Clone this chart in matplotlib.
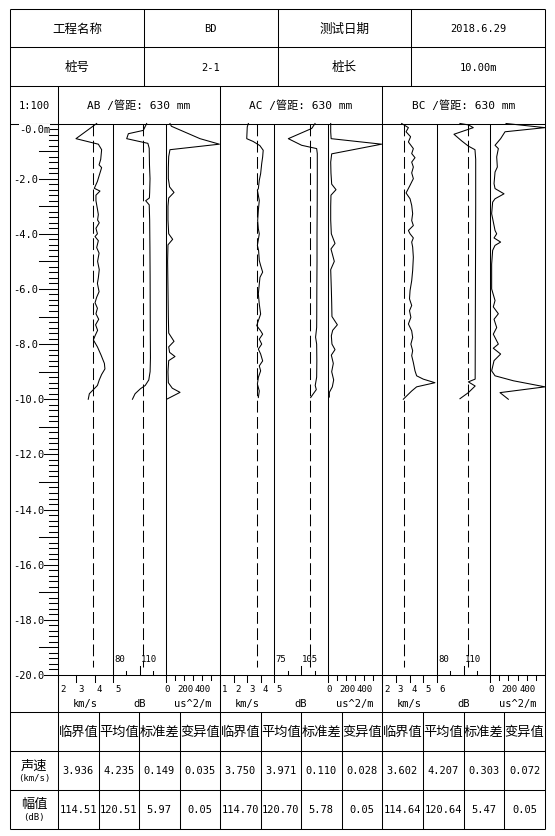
import numpy as np
import matplotlib
matplotlib.use("Agg")
import matplotlib.pyplot as plt
import matplotlib.transforms as mtransforms

plt.rcParams['font.family'] = ['DejaVu Sans Mono', 'Noto Sans CJK SC']
plt.rcParams['lines.scale_dashes'] = False

W, H = 555, 837

# ---------------- data ----------------
header_row1 = ["工程名称", "BD", "测试日期", "2018.6.29"]
header_row2 = ["桩号", "2-1", "桩长", "10.00m"]
scale_label = "1:100"
sections = ["AB", "AC", "BC"]
pipe_gap = [630, 630, 630]

vel_range = [(2, 5), (1, 5), (2, 6)]
amp_range = [(80, 140), (75, 135), (80, 140)]
psd_range = (0, 600)
vel_crit = [3.936, 3.750, 3.602]
amp_crit = [114.51, 114.70, 114.64]

stat_names = ["临界值", "平均值", "标准差", "变异值"]
vel_stats = [["3.936", "4.235", "0.149", "0.035"],
             ["3.750", "3.971", "0.110", "0.028"],
             ["3.602", "4.207", "0.303", "0.072"]]
amp_stats = [["114.51", "120.51", "5.97", "0.05"],
             ["114.70", "120.70", "5.78", "0.05"],
             ["114.64", "120.64", "5.47", "0.05"]]

# AB
ab_vel_depth = [0.0, 0.55, 0.75, 0.95, 1.3, 1.5, 1.6, 1.9, 2.1, 2.35, 2.45, 2.6, 2.8, 3.1, 3.3, 3.5,
                3.6, 3.8, 4.0, 4.1, 4.25, 4.5, 4.7, 5.0, 5.3, 5.6, 5.8, 6.1, 6.3, 6.5, 6.7, 6.9,
                7.1, 7.3, 7.5, 7.7, 7.85, 8.1, 8.4, 8.7, 8.9, 9.1, 9.3, 9.5, 9.65, 9.8, 10.0]
ab_vel = [4.11, 2.98, 4.20, 4.38, 4.33, 4.24, 4.38, 4.24, 4.15, 3.98, 4.29, 4.07, 4.07, 4.15, 4.20, 4.16,
          4.25, 4.07, 4.15, 4.02, 4.20, 4.11, 4.24, 4.16, 4.25, 4.20, 4.15, 4.24, 4.11, 4.02, 4.15, 4.07,
          4.22, 4.05, 4.16, 4.02, 3.93, 4.15, 4.35, 4.53, 4.56, 4.38, 4.25, 4.15, 3.93, 3.71, 3.65]
ab_amp_depth = [0.0, 0.25, 0.37, 0.55, 0.72, 0.9, 1.5, 2.0, 2.5, 2.7, 2.8, 2.95, 3.5, 4.5, 5.5, 6.5,
                7.5, 8.5, 9.0, 9.3, 9.5, 9.62, 9.8, 10.0]
ab_amp = [118.1, 114.3, 97.4, 95.5, 119.5, 121.0, 121.3, 121.9, 121.5, 121.2, 117.0, 121.0, 121.5, 121.8,
          122.0, 122.1, 122.2, 122.4, 122.0, 120.5, 116.5, 111.0, 105.0, 102.0]
ab_psd_depth = [0.0, 0.1, 0.55, 0.75, 0.95, 1.2, 1.6, 2.0, 2.3, 2.5, 2.7, 3.0, 3.5, 4.0, 4.2, 4.4,
                5.0, 6.0, 7.0, 7.6, 7.9, 8.1, 8.3, 8.45, 8.6, 9.0, 9.4, 9.6, 9.75, 10.0]
ab_psd = [44, 60, 378, 593, 44, 30, 26, 26, 40, 89, 30, 22, 22, 30, 74, 22,
          18, 22, 26, 30, 89, 30, 40, 100, 30, 22, 26, 70, 156, 7]

# AC
ac_vel_depth = [0.0, 0.12, 0.55, 0.65, 0.8, 0.97, 1.21, 1.45, 1.82, 2.06, 2.36, 2.42, 2.79, 3.15,
                3.52, 3.82, 4.0, 4.42, 4.61, 4.97, 5.15, 5.39, 5.58, 5.82, 6.18, 6.55, 6.91, 7.15,
                7.33, 7.52, 7.64, 7.82, 8.0, 8.18, 8.36, 8.61, 8.79, 8.97, 9.21, 9.45, 9.7, 9.94]
ac_vel = [3.10, 3.02, 2.98, 3.45, 3.95, 4.20, 4.16, 4.09, 4.01, 3.91, 3.84, 3.77, 3.91, 3.84,
          3.79, 3.84, 3.91, 3.77, 3.86, 3.91, 4.01, 4.16, 3.96, 3.91, 3.84, 3.91, 4.01, 3.84,
          3.72, 4.01, 4.16, 3.91, 4.09, 3.84, 4.01, 4.16, 3.91, 4.01, 3.84, 3.77, 3.91, 3.84]
ac_amp_depth = [0.0, 0.18, 0.55, 0.79, 0.91, 1.09, 2.0, 3.0, 4.0, 5.0, 6.0, 7.0, 7.4, 7.75, 8.0,
                8.6, 9.2, 9.5, 9.65, 9.8, 9.94]
ac_amp = [120.6, 116.9, 90.9, 105.7, 122.4, 123.1, 123.1, 123.0, 122.8, 122.8, 122.6, 122.5, 122.4,
          121.2, 122.4, 122.6, 122.4, 120.8, 122.0, 118.7, 115.7]
ac_psd_depth = [0.0, 0.3, 0.55, 0.75, 1.1, 1.4, 1.8, 2.2, 2.4, 2.6, 3.0, 3.5, 4.0, 4.35, 4.55, 5.0,
                5.3, 6.0, 6.5, 7.0, 7.3, 7.5, 7.7, 8.0, 8.2, 8.4, 8.7, 9.0, 9.3, 9.55, 9.75, 9.92]
ac_psd = [30, 30, 35, 596, 41, 30, 33, 41, 89, 33, 30, 30, 37, 78, 33, 70,
          30, 37, 41, 44, 104, 52, 37, 44, 78, 37, 59, 41, 63, 48, 15, 15]

# BC
bc_vel_depth = [0.0, 0.15, 0.3, 0.48, 0.67, 0.91, 1.09, 1.24, 1.4, 1.58, 1.79, 2.0, 2.24, 2.52,
                2.73, 2.97, 3.27, 3.52, 3.7, 3.88, 4.0, 4.15, 4.3, 4.48, 4.85, 5.33, 5.7, 6.06,
                6.36, 6.6, 6.79, 7.03, 7.27, 7.52, 7.76, 8.0, 8.24, 8.42, 8.67, 8.97, 9.15, 9.27,
                9.4, 9.55, 9.7, 9.88, 10.0]
bc_vel = [3.43, 3.92, 3.75, 4.08, 3.92, 4.28, 4.16, 4.40, 4.16, 4.28, 4.16, 4.28, 4.04, 3.75,
          4.04, 4.16, 4.23, 4.16, 4.28, 3.92, 4.04, 4.28, 4.16, 4.23, 4.28, 4.23, 4.16, 4.04,
          4.00, 4.16, 4.00, 4.10, 3.92, 4.16, 4.23, 4.10, 4.23, 4.16, 4.28, 4.40, 4.52, 5.00,
          5.85, 4.52, 4.16, 3.79, 3.55]
bc_amp_depth = [0.0, 0.05, 0.15, 0.39, 0.63, 0.82, 0.95, 1.3, 3.0, 5.0, 7.0, 9.27, 9.37, 9.52,
                9.76, 9.98]
bc_amp = [106.0, 115.5, 121.1, 99.2, 107.9, 115.5, 123.0, 123.8, 123.8, 123.6, 123.4, 123.2,
          115.5, 123.2, 115.5, 106.0]
bc_psd_depth = [0.0, 0.15, 0.3, 0.55, 0.79, 0.91, 1.21, 1.58, 1.76, 2.18, 2.36, 2.55, 2.73, 2.85,
                3.27, 3.88, 4.0, 4.15, 4.3, 4.42, 4.6, 5.1, 6.0, 6.42, 6.65, 6.9, 7.1, 7.4, 7.64,
                8.0, 8.15, 8.36, 8.6, 8.97, 9.15, 9.33, 9.55, 9.76, 10.0]
bc_psd = [175, 600, 164, 116, 55, 91, 73, 80, 55, 44, 55, 153, 55, 29,
          18, 55, 73, 44, 116, 55, 29, 18, 18, 55, 36, 91, 44, 73, 36,
          91, 36, 116, 44, 18, 55, 255, 600, 109, 200]

curves = [
    [(ab_vel_depth, ab_vel), (ab_amp_depth, ab_amp), (ab_psd_depth, ab_psd)],
    [(ac_vel_depth, ac_vel), (ac_amp_depth, ac_amp), (ac_psd_depth, ac_psd)],
    [(bc_vel_depth, bc_vel), (bc_amp_depth, bc_amp), (bc_psd_depth, bc_psd)],
]
max_depth = 20

# ---------------- layout (pixels) ----------------
LEFT, RIGHT = 10, 545
ROW_Y = [10, 48, 87, 124.5]
TOP, BOT = 124.5, 676
TAB_Y = [713, 752, 791, 830]
COL_X = 58
GROUP_X = [58, 220, 382, 545]
SUB_X = [[58, 113, 166, 220], [220, 274, 328, 382], [382, 437, 490, 545]]
LW = 0.75

fig = plt.figure(figsize=(W / 100, H / 100), dpi=100)
base = fig.add_axes([0, 0, 1, 1])
base.set_xlim(0, W)
base.set_ylim(H, 0)
base.axis('off')


def px_axes(x0, y0, x1, y1):
    return fig.add_axes([x0 / W, 1 - y1 / H, (x1 - x0) / W, (y1 - y0) / H])


def hl(y, x0, x1):
    base.plot([x0, x1], [y, y], color='k', lw=LW, solid_capstyle='butt')


def vl(x, y0, y1):
    base.plot([x, x], [y0, y1], color='k', lw=LW, solid_capstyle='butt')


# frame lines
for y in ROW_Y + TAB_Y:
    hl(y, LEFT, RIGHT)
hl(BOT, COL_X, RIGHT)
vl(LEFT, ROW_Y[0], TAB_Y[-1])
vl(RIGHT, ROW_Y[0], TAB_Y[-1])
cw = (RIGHT - LEFT) / 4
for k in range(1, 4):
    vl(LEFT + k * cw, ROW_Y[0], ROW_Y[2])
for x in GROUP_X[:-1]:
    vl(x, ROW_Y[2], TAB_Y[-1])
for g in range(3):
    for x in SUB_X[g][1:3]:
        vl(x, TOP, BOT)
    gw = (GROUP_X[g + 1] - GROUP_X[g]) / 4
    for k in range(1, 4):
        vl(GROUP_X[g] + k * gw, TAB_Y[0], TAB_Y[-1])

# header text
for k in range(4):
    cx = LEFT + (k + 0.5) * cw
    for row, txt in ((0, header_row1[k]), (1, header_row2[k])):
        cy = (ROW_Y[row] + ROW_Y[row + 1]) / 2
        fs = 9 if k % 2 == 0 else 7.5
        base.text(cx, cy, txt, ha='center', va='center', fontsize=fs)
cy3 = (ROW_Y[2] + ROW_Y[3]) / 2
base.text((LEFT + COL_X) / 2, cy3, scale_label, ha='center', va='center', fontsize=7.5)
for g in range(3):
    base.text((GROUP_X[g] + GROUP_X[g + 1]) / 2, cy3,
              "%s /管距: %d mm" % (sections[g], pipe_gap[g]),
              ha='center', va='center', fontsize=8)

# depth scale
dax = px_axes(LEFT, TOP, COL_X, BOT)
dax.set_xlim(LEFT, COL_X)
dax.set_ylim(-max_depth, 0)
dax.axis('off')
for d in np.round(np.arange(0, max_depth + 0.001, 0.2), 1):
    if np.isclose(d % 1, 0) or np.isclose(d % 1, 1):
        dax.plot([39, COL_X], [-d, -d], color='k', lw=LW, clip_on=False)
    else:
        dax.plot([49, COL_X], [-d, -d], color='k', lw=LW, clip_on=False)
for d in range(0, max_depth + 1, 2):
    if d == 0:
        dax.text(19, -0.2, "-0.0m", ha='left', va='center', fontsize=7.5,
                 bbox=dict(fc='white', ec='none', pad=0))
    else:
        dax.text(13, -d, "-%.1f" % d, ha='left', va='center', fontsize=7.5,
                 bbox=dict(fc='white', ec='none', pad=0), clip_on=False)

# curves and bottom scales
for g in range(3):
    ranges = [vel_range[g], amp_range[g], psd_range]
    crits = [vel_crit[g], amp_crit[g], None]
    units = ["km/s", "dB", "us^2/m"]
    for s in range(3):
        x0, x1 = SUB_X[g][s], SUB_X[g][s + 1]
        ax = px_axes(x0, TOP, x1, BOT)
        lo, hi = ranges[s]
        ax.set_xlim(lo, hi)
        ax.set_ylim(-max_depth, 0)
        ax.axis('off')
        dep, val = curves[g][s]
        ax.plot(val, -np.array(dep), color='k', lw=LW, clip_on=False)
        if crits[s] is not None:
            ax.plot([crits[s], crits[s]], [0, -19.7], color='k', lw=LW,
                    dashes=(8.5, 3.2), clip_on=False)
        tr = mtransforms.blended_transform_factory(ax.transData, base.transData)
        if s == 0:
            for t in range(lo, hi + 1):
                ax.plot([t, t], [BOT, BOT + 7], color='k', lw=LW, transform=tr, clip_on=False)
                ax.text(t, 690, str(t), ha='left', va='center', fontsize=6.5, clip_on=False,
                        transform=mtransforms.offset_copy(tr, fig=fig, x=2, units='dots'))
        elif s == 1:
            for t in np.arange(lo + 15, hi, 15):
                ln = 9 if t == lo + 30 else 4
                ax.plot([t, t], [BOT, BOT - ln], color='k', lw=LW, transform=tr, clip_on=False)
            for t in (lo, lo + 30):
                ax.text(t, 660, str(t), ha='left', va='center', fontsize=6.5, clip_on=False,
                        transform=mtransforms.offset_copy(tr, fig=fig, x=1, units='dots'))
        else:
            for t in range(lo, hi, 100):
                ln = 7 if t == lo else 5
                ax.plot([t, t], [BOT, BOT + ln], color='k', lw=LW, transform=tr, clip_on=False)
            for t in (0, 200, 400):
                ax.text(t, 690, str(t), ha='center', va='center', fontsize=6.5, clip_on=False,
                        transform=mtransforms.offset_copy(tr, fig=fig, x=1, units='dots'))
        base.text((x0 + x1) / 2, 704, units[s], ha='center', va='center', fontsize=7.5)

# statistics table
for g in range(3):
    gw = (GROUP_X[g + 1] - GROUP_X[g]) / 4
    for k in range(4):
        cx = GROUP_X[g] + (k + 0.5) * gw
        base.text(cx, (TAB_Y[0] + TAB_Y[1]) / 2, stat_names[k], ha='center', va='center',
                  fontsize=9.5)
        base.text(cx, (TAB_Y[1] + TAB_Y[2]) / 2, vel_stats[g][k], ha='center', va='center',
                  fontsize=7.5)
        base.text(cx, (TAB_Y[2] + TAB_Y[3]) / 2, amp_stats[g][k], ha='center', va='center',
                  fontsize=7.5)
lx = (LEFT + COL_X) / 2
base.text(lx, 766, "声速", ha='center', va='center', fontsize=9.5)
base.text(lx, 779, "(km/s)", ha='center', va='center', fontsize=6.5)
base.text(lx, 805, "幅值", ha='center', va='center', fontsize=9.5)
base.text(lx, 818, "(dB)", ha='center', va='center', fontsize=6.5)

fig.savefig("out.png", dpi=100, facecolor='white')
